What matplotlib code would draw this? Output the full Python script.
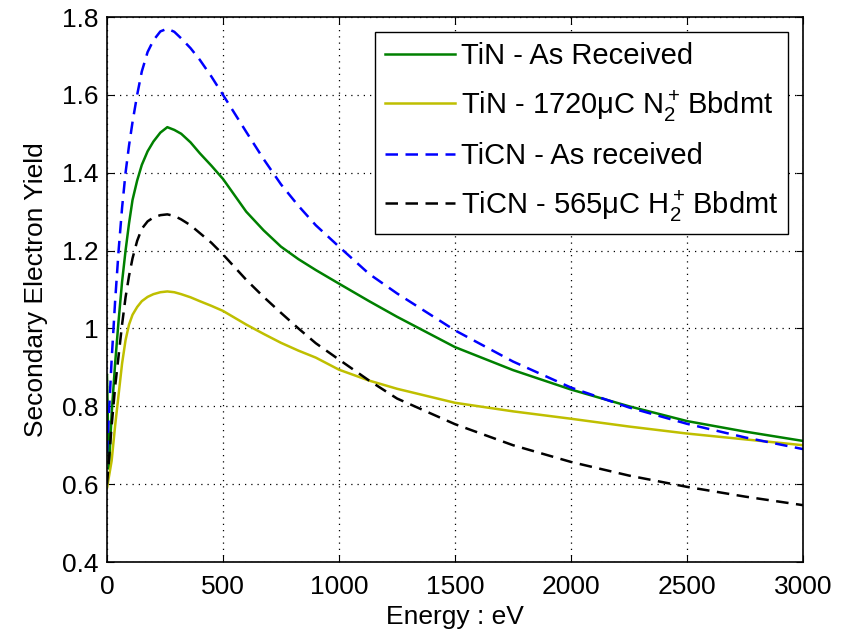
import matplotlib
matplotlib.use("Agg")
import matplotlib.pyplot as plt

# energies (eV) and yields
energy_tin = [0, 8, 20, 35, 50, 65, 80, 95, 110, 130, 150, 175, 200, 230, 260, 290,
              320, 360, 400, 450, 500, 600, 675, 750, 825, 900, 1000, 1130, 1250,
              1500, 1750, 2000, 2250, 2500, 2750, 3000]
tin_as_received = [0.88, 0.64, 0.78, 0.91, 1.02, 1.12, 1.20, 1.27, 1.33, 1.38, 1.42,
                   1.455, 1.48, 1.503, 1.517, 1.51, 1.50, 1.478, 1.45, 1.418, 1.384,
                   1.30, 1.252, 1.21, 1.178, 1.15, 1.115, 1.07, 1.03, 0.952, 0.893,
                   0.843, 0.80, 0.762, 0.735, 0.711]

energy = [0, 20, 35, 50, 65, 80, 95, 110, 130, 150, 175, 200, 230, 260, 290, 320,
          360, 400, 450, 500, 600, 675, 750, 825, 900, 1000, 1130, 1250, 1500,
          1750, 2000, 2250, 2500, 2750, 3000]
tin_n2 = [0.59, 0.66, 0.75, 0.83, 0.91, 0.97, 1.01, 1.035, 1.055, 1.07, 1.081, 1.088,
          1.093, 1.095, 1.093, 1.088, 1.08, 1.07, 1.058, 1.045, 1.01, 0.986, 0.963,
          0.943, 0.925, 0.894, 0.866, 0.845, 0.809, 0.787, 0.768, 0.748, 0.73,
          0.715, 0.70]
ticn_as_received = [0.68, 0.92, 1.07, 1.20, 1.31, 1.40, 1.47, 1.53, 1.60, 1.66, 1.71,
                    1.74, 1.763, 1.77, 1.762, 1.745, 1.72, 1.69, 1.647, 1.60, 1.505,
                    1.435, 1.37, 1.315, 1.265, 1.21, 1.14, 1.09, 0.995, 0.915, 0.848,
                    0.797, 0.755, 0.72, 0.69]
ticn_h2 = [0.60, 0.75, 0.85, 0.93, 1.01, 1.08, 1.135, 1.18, 1.225, 1.256, 1.275,
           1.285, 1.291, 1.293, 1.289, 1.28, 1.265, 1.245, 1.22, 1.19, 1.125, 1.081,
           1.04, 1.0, 0.962, 0.92, 0.866, 0.82, 0.754, 0.70, 0.657, 0.622, 0.593,
           0.568, 0.546]

labels = ["TiN - As Received",
          "TiN - 1720μC N$_2^+\\,$Bbdmt",
          "TiCN - As received",
          "TiCN - 565μC H$_2^+\\,$Bbdmt"]

plt.rcParams["font.family"] = ["Liberation Sans", "DejaVu Sans"]
plt.rcParams["mathtext.fontset"] = "custom"
plt.rcParams["mathtext.rm"] = "Liberation Sans"
plt.rcParams["mathtext.it"] = "Liberation Sans"

fig = plt.figure(figsize=(8.51, 6.39), dpi=100, facecolor="white")
ax = fig.add_axes([107 / 851, 1 - 562 / 639, 696 / 851, 545 / 639])

ax.plot(energy_tin, tin_as_received, color="#008000", lw=1.8, label=labels[0])
ax.plot(energy, tin_n2, color="#bfbf00", lw=1.8, label=labels[1])
ax.plot(energy, ticn_as_received, color="#0000ff", lw=1.8, ls=(0, (5, 3)), label=labels[2])
ax.plot(energy, ticn_h2, color="black", lw=1.8, ls=(0, (5, 3)), label=labels[3])

ax.set_xlim(0, 3000)
ax.set_ylim(0.4, 1.8)
ax.set_xticks([0, 500, 1000, 1500, 2000, 2500, 3000])
ax.set_yticks([0.4, 0.6, 0.8, 1.0, 1.2, 1.4, 1.6, 1.8])
ax.set_yticklabels(["0.4", "0.6", "0.8", "1", "1.2", "1.4", "1.6", "1.8"])
ax.tick_params(direction="in", top=True, right=True, labelsize=19, length=5)
ax.tick_params(axis="x", pad=9)
ax.tick_params(axis="y", pad=6)
ax.grid(True, ls=(0, (1, 4)), color="black", lw=0.9)
for s in ax.spines.values():
    s.set_linewidth(1.2)

ax.set_xlabel("Energy : eV", fontsize=19, labelpad=5)
ax.set_ylabel("Secondary Electron Yield", fontsize=19, labelpad=10)

leg = ax.legend(loc="upper right", fontsize=21, fancybox=False, framealpha=1,
                edgecolor="black", handlelength=2.4, handletextpad=0.2,
                borderaxespad=0.5, labelspacing=0.62, borderpad=0.35)
leg.get_frame().set_linewidth(1.0)

fig.savefig("out.png", dpi=100, facecolor="white")
